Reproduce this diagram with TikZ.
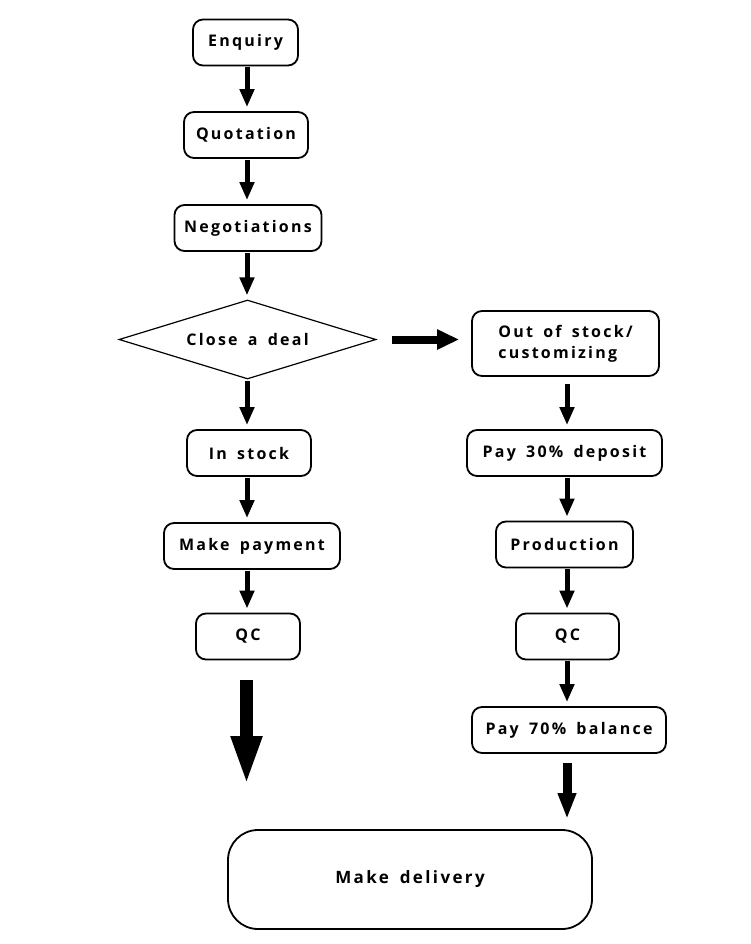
\documentclass[tikz,border=0pt]{standalone}
\usepackage{fontspec}
\setmainfont{Open Sans}[BoldFont={* Bold},LetterSpace=14,WordSpace=1.6]
\usetikzlibrary{shapes.geometric,arrows.meta}

\begin{document}
\begin{tikzpicture}
[
	x=1pt,y=-1pt,
	font=\fontsize{16}{21}\selectfont\bfseries,
	box/.style={draw,line width=1.8pt,rounded corners=10pt,minimum height=46pt,inner sep=0pt,align=center},
	decision/.style={draw,diamond,line width=1.2pt,aspect=3.25,inner sep=0pt,minimum width=257pt,minimum height=79pt},
	flowarrow/.style={line width=5pt,-{Triangle[length=18pt,width=14pt]},shorten >=4pt,shorten <=1pt},
	bigarrow/.style={line width=13pt,-{Triangle[length=50pt,width=28pt]}}
]
	\useasboundingbox (0,0) rectangle (750,944);

	% left column
	\node[box,minimum width=105pt] (enquiry) at (245.5,42.5) {Enquiry};
	\node[box,minimum width=124pt] (quotation) at (246,135) {Quotation};
	\node[box,minimum width=147pt] (negotiations) at (248,228) {Negotiations};
	\node[decision] (deal) at (247.5,339.5) {Close a deal};
	\node[box,minimum width=124pt] (instock) at (249,453) {In stock};
	\node[box,minimum width=176pt] (payment) at (252,546) {Make payment};
	\node[box,minimum width=104pt] (qcleft) at (248,636.5) {QC};

	% right column
	\node[box,minimum width=187pt,minimum height=65pt,align=left] (outstock) at (565.5,343.5) {Out of stock/\\customizing};
	\node[box,minimum width=195pt] (deposit) at (564.5,453) {Pay 30\% deposit};
	\node[box,minimum width=137pt] (production) at (564.5,544.5) {Production};
	\node[box,minimum width=103pt] (qcright) at (567.5,636.5) {QC};
	\node[box,minimum width=194pt] (balance) at (569,730) {Pay 70\% balance};

	\node[box,rounded corners=30pt,minimum width=364pt,minimum height=99pt,font=\fontsize{17}{21}\selectfont\bfseries] (delivery) at (410,879.5) {Make delivery};

	% arrows
	\draw[flowarrow] (enquiry.south -| 247,0) -- (quotation.north -| 247,0);
	\draw[flowarrow] (quotation.south -| 247,0) -- (negotiations.north -| 247,0);
	\draw[flowarrow] (negotiations.south -| 247,0) -- (deal.north -| 247,0);
	\draw[flowarrow] (deal.south -| 247,0) -- (instock.north -| 247,0);
	\draw[flowarrow] (instock.south -| 247,0) -- (payment.north -| 247,0);
	\draw[flowarrow] (payment.south -| 247,0) -- (qcleft.north -| 247,0);

	\draw[line width=8pt,-{Triangle[length=22pt,width=19pt]}] ([xshift=15pt]deal.east) -- ([xshift=-12pt]outstock.west |- deal.east);

	\draw[flowarrow] (outstock.south -| 567,0) ++(0,6) -- (deposit.north -| 567,0);
	\draw[flowarrow] (deposit.south -| 567,0) -- (production.north -| 567,0);
	\draw[flowarrow] (production.south -| 567,0) -- (qcright.north -| 567,0);
	\draw[flowarrow] (qcright.south -| 567,0) -- (balance.north -| 567,0);

	\coordinate (leftstart) at (246.5,680);
	\coordinate (leftend) at (246.5,786);
	\draw[bigarrow] (leftstart) -- (leftend);
	\draw[line width=9pt,-{Triangle[length=26pt,width=17pt]},shorten >=10pt] (balance.south -| 567,0) ++(0,9) -- (delivery.north -| 567,0);

\end{tikzpicture}
\end{document}
